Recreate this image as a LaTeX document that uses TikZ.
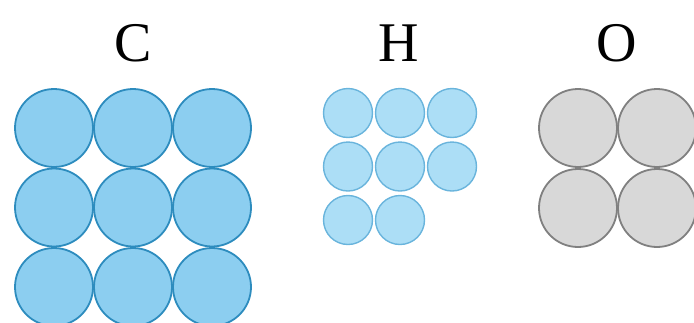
\documentclass[tikz,border=0pt]{standalone}
\usepackage{fontspec}
\setmainfont{Liberation Serif}
\usepackage{tikz}
\usetikzlibrary{positioning}
\definecolor{cfill}{RGB}{140,206,240}
\definecolor{cline}{RGB}{45,140,190}
\definecolor{hfill}{RGB}{172,222,246}
\definecolor{hline}{RGB}{105,180,220}
\definecolor{ofill}{RGB}{216,216,216}
\definecolor{oline}{RGB}{128,128,128}
\tikzset{
  atomC/.style={circle, draw=cline, fill=cfill, line width=1.8pt, minimum size=78pt, inner sep=0pt},
  atomH/.style={circle, draw=hline, fill=hfill, line width=1.4pt, minimum size=49pt, inner sep=0pt},
  atomO/.style={circle, draw=oline, fill=ofill, line width=1.8pt, minimum size=78pt, inner sep=0pt},
  elem/.style={font=\fontsize{56}{60}\selectfont, inner sep=0pt}
}
\begin{document}
\begin{tikzpicture}[x=1pt,y=-1pt]
                \useasboundingbox (0,0) rectangle (694,322);
                % labels
                \node[elem] (labC) at (133,43) {C};
                \node[elem] (labH) at (399,43) {H};
                \node[elem] (labO) at (617,43) {O};
                % carbon, 3x3
                \foreach \i in {1,2,3}
                  \foreach \j in {1,2,3}
                    \node[atomC] (c\i\j) at ({54+79*(\j-1)},{128+79.5*(\i-1)}) {};
                % hydrogen, 8 atoms
                \foreach \i/\j in {1/1,1/2,1/3,2/1,2/2,2/3,3/1,3/2}
                  \node[atomH] (h\i\j) at ({348+52*(\j-1)},{113+53.5*(\i-1)}) {};
                % oxygen, 2x2
                \foreach \i in {1,2}
                  \foreach \j in {1,2}
                    \node[atomO] (o\i\j) at ({578+79*(\j-1)},{128+80*(\i-1)}) {};
              \end{tikzpicture}
\end{document}
